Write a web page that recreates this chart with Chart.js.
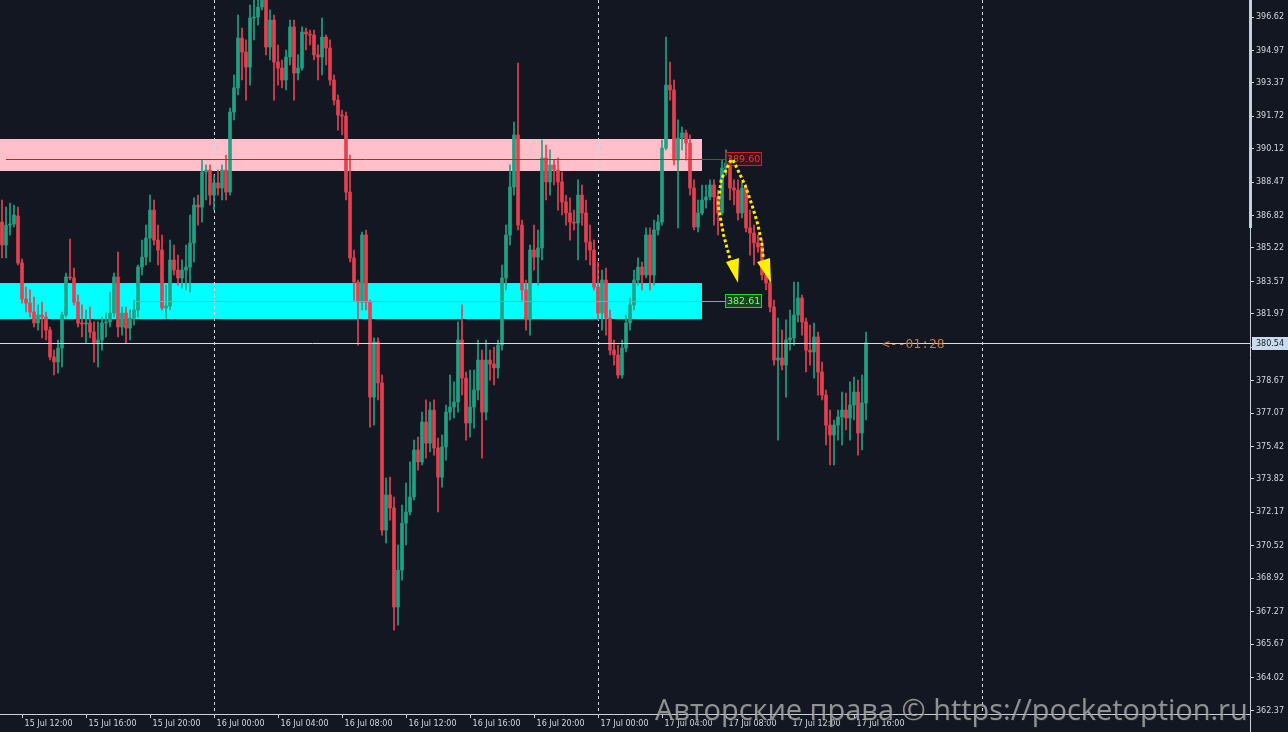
<!DOCTYPE html>
<html><head><meta charset="utf-8">
<script src="https://cdn.jsdelivr.net/npm/chart.js@4.4.1/dist/chart.umd.min.js"></script>
<style>html,body{margin:0;padding:0;background:#131722;overflow:hidden}canvas{display:block}</style>
</head><body>
<canvas id="c" width="1288" height="732"></canvas>
<script>
// ---- DATA (15-minute candles, index 0 = 15 Jul 10:45) ----
const opens = [386.50,385.37,386.35,386.40,386.80,384.48,382.70,382.50,382.06,381.52,381.91,381.81,381.17,379.84,379.59,380.28,381.91,383.79,383.74,382.55,381.52,381.47,381.52,381.07,380.53,380.68,381.52,381.57,382.01,383.79,381.32,382.01,381.27,381.76,382.16,384.28,384.77,385.71,387.09,385.61,385.12,382.26,382.36,384.63,384.13,383.74,384.13,384.28,385.47,387.34,387.24,388.97,389.07,387.83,388.43,388.18,389.07,387.98,391.93,393.12,395.58,394.89,394.15,396.57,396.62,397.11,397.71,395.14,396.47,394.40,394.10,393.51,394.65,396.13,393.86,394.10,395.88,395.78,395.73,394.75,394.65,395.63,395.09,393.51,392.52,391.78,391.73,387.98,384.73,383.54,382.55,385.86,382.55,377.86,380.58,378.56,371.30,373.03,372.39,367.50,369.32,371.64,372.19,372.93,375.25,374.66,376.63,375.59,377.22,375.35,373.91,375.40,377.12,377.37,377.62,380.68,378.80,376.58,377.37,378.21,379.69,377.12,379.69,379.49,379.30,380.43,383.74,385.86,388.23,390.80,386.35,383.15,381.67,385.12,384.77,385.22,389.66,388.48,389.32,389.07,388.48,387.49,386.95,386.50,386.45,387.83,386.95,385.51,385.12,383.29,382.01,383.64,381.76,380.18,379.94,378.95,380.28,381.52,382.41,383.64,384.28,383.89,385.86,383.89,386.11,386.50,390.15,393.26,393.02,389.56,390.65,390.90,390.40,388.18,386.26,386.95,387.59,387.74,388.33,387.74,386.95,389.17,389.41,388.18,388.08,386.95,388.18,386.21,385.96,385.47,385.27,383.89,383.49,382.31,379.69,379.79,379.44,380.68,380.78,381.91,382.75,381.57,380.18,380.09,380.83,379.10,377.96,376.48,375.99,376.48,376.88,377.22,376.83,377.47,378.11,376.09,377.57];
const highs = [387.59,387.24,387.44,387.34,387.24,384.68,383.29,383.15,382.80,382.41,382.55,382.06,381.32,380.18,380.68,382.06,383.98,385.66,384.23,382.90,382.41,382.16,382.31,381.57,381.57,381.81,382.01,383.05,383.98,385.02,382.31,382.31,382.16,382.65,384.38,385.61,386.35,387.83,387.59,386.35,385.86,383.39,385.61,385.37,384.87,384.63,385.37,386.85,387.69,387.83,389.56,389.32,389.32,388.82,389.07,389.32,389.81,392.13,393.76,396.72,396.08,395.49,397.21,397.46,397.71,398.45,398.45,396.97,396.72,395.24,394.50,394.99,396.47,396.47,394.75,396.13,396.08,395.98,395.98,395.24,396.57,395.73,395.49,393.76,392.77,392.03,391.93,389.81,385.12,383.64,386.01,386.11,382.65,380.78,380.78,378.95,373.87,373.91,372.93,370.56,372.53,373.62,374.66,375.74,375.89,377.12,377.72,377.62,377.72,375.84,375.99,377.47,378.95,378.61,381.57,382.41,379.10,379.20,379.20,380.68,380.18,380.68,380.18,380.33,380.68,384.38,386.35,389.32,391.44,394.35,386.60,383.64,385.37,386.35,386.11,390.55,390.30,390.06,389.56,389.66,388.97,387.83,387.69,387.09,388.58,388.33,387.59,386.35,385.61,384.53,384.13,384.23,382.16,380.68,380.43,380.68,381.91,382.75,384.13,384.73,384.53,386.21,386.21,386.60,386.85,390.55,395.63,394.40,393.51,391.54,391.19,391.04,390.80,388.58,387.59,388.33,388.33,388.58,388.58,388.08,389.56,390.06,389.81,388.58,388.58,388.48,388.33,387.09,386.35,385.86,385.61,384.13,383.74,382.65,381.76,381.17,381.67,382.16,383.54,383.54,382.90,381.76,381.42,381.52,381.07,379.59,378.21,377.22,376.73,377.22,378.11,378.06,378.61,378.85,378.70,378.95,381.07];
const lows = [384.73,384.73,385.86,386.26,384.38,382.50,382.06,381.81,381.32,381.17,380.78,380.68,379.69,378.95,379.05,379.35,381.81,383.64,382.41,381.32,380.83,380.53,380.78,379.59,379.35,380.18,380.83,381.32,381.81,380.83,380.92,380.53,380.68,381.42,381.81,383.89,384.38,384.53,385.37,384.38,382.16,381.76,382.16,383.89,383.39,383.24,383.15,383.05,384.53,386.35,386.50,387.59,387.34,387.09,387.83,387.59,387.59,387.83,391.54,392.77,393.51,392.52,393.26,395.49,396.23,396.97,394.75,394.50,392.52,393.26,393.12,393.02,394.25,392.52,393.51,394.00,394.99,395.24,394.50,393.51,393.76,394.25,393.26,392.28,391.04,390.80,387.59,384.53,382.65,380.43,382.16,382.16,376.38,376.48,377.72,371.05,370.66,371.79,366.36,366.61,368.83,370.56,372.04,372.78,374.26,374.51,374.85,375.15,375.00,372.19,373.42,374.75,376.73,376.83,377.12,377.96,375.74,375.89,376.33,377.72,374.85,376.73,378.70,378.46,378.80,380.18,383.15,385.37,387.83,386.11,382.65,381.17,380.92,384.13,383.39,384.63,387.59,387.83,388.33,387.09,386.85,386.35,385.61,386.11,384.63,386.35,384.63,384.38,383.15,381.67,381.17,380.92,379.94,379.44,378.80,378.80,380.09,381.17,382.16,383.39,383.15,383.74,383.15,383.39,385.86,386.35,390.06,392.52,389.32,386.21,390.06,389.56,387.83,386.11,386.01,386.85,387.19,387.59,386.35,385.86,386.85,388.82,387.59,387.34,386.60,386.70,386.01,384.87,384.38,385.02,383.64,383.15,382.06,379.44,375.74,379.20,377.86,380.18,380.43,381.57,380.92,379.10,379.44,378.80,377.96,377.72,375.50,374.51,374.51,375.74,375.50,376.24,375.74,376.73,375.00,375.25,376.73];
const closes = [385.37,386.35,386.40,386.85,384.48,382.70,382.50,382.06,381.52,381.91,381.81,381.17,379.84,379.59,380.28,381.91,383.79,383.74,382.55,381.52,381.47,381.52,381.07,380.53,380.68,381.52,381.57,382.01,383.79,381.32,382.01,381.27,381.76,382.16,384.28,384.77,385.71,387.09,385.61,385.12,382.26,382.36,384.63,384.13,383.74,384.13,384.28,385.47,387.34,387.24,388.97,389.07,387.83,388.43,388.18,389.07,387.98,391.93,393.12,395.58,394.89,394.15,396.57,396.62,397.11,397.71,395.14,396.47,394.40,394.10,393.51,394.65,396.13,393.86,394.10,395.88,395.78,395.73,394.75,394.65,395.63,395.09,393.51,392.52,391.78,391.73,387.98,384.73,383.54,382.55,385.86,382.55,377.86,380.58,378.56,371.30,373.03,372.39,367.50,369.32,371.64,372.19,372.93,375.25,374.66,376.63,375.59,377.22,375.35,373.91,375.40,377.12,377.37,377.62,380.68,378.80,376.58,377.37,378.21,379.69,377.12,379.69,379.49,379.30,380.43,383.74,385.86,388.23,390.80,386.35,383.15,381.67,385.12,384.77,385.22,389.66,388.48,389.32,389.07,388.48,387.49,386.95,386.50,386.45,387.83,386.95,385.51,385.12,383.29,382.01,383.64,381.76,380.18,379.94,378.95,380.28,381.52,382.41,383.64,384.28,383.89,385.86,383.89,386.11,386.50,390.15,393.26,393.02,389.56,390.65,390.90,390.40,388.18,386.26,386.95,387.59,387.74,388.33,387.74,386.95,389.17,389.41,388.18,388.08,386.95,388.18,386.21,385.96,385.47,385.27,383.89,383.49,382.31,379.69,379.79,379.44,380.68,380.78,381.91,382.75,381.57,380.18,380.09,380.83,379.10,377.96,376.48,375.99,376.48,376.88,377.22,376.83,377.47,378.11,376.09,377.57,380.54];

const xTickIndex = [5,21,37,53,69,85,101,117,133,149,165,181,197,213];
const xTickLabels = ['15 Jul 12:00','15 Jul 16:00','15 Jul 20:00','16 Jul 00:00','16 Jul 04:00','16 Jul 08:00','16 Jul 12:00','16 Jul 16:00','16 Jul 20:00','17 Jul 00:00','17 Jul 04:00','17 Jul 08:00','17 Jul 12:00','17 Jul 16:00'];
const yTickValues = [396.62,394.97,393.37,391.72,390.12,388.47,386.82,385.22,383.57,381.97,380.32,378.67,377.07,375.42,373.82,372.17,370.52,368.92,367.27,365.67,364.02,362.37];
const daySeparators = [53,149,245];

const resistanceZone = [389.02, 390.60];   // pink
const supportZone = [381.71, 383.49];      // cyan
const zoneSpan = [-0.5, 175];
const resistanceLevel = 389.60, resistanceFrom = 1;
const supportLevel = 382.61, supportFrom = 33.25;
const levelLabelAt = 180.75;
const lastPrice = 380.54;
const timerText = '<--01:28';
const arrowLeftPath = [[182.25,389.56],[179.8,388.6],[179,387.34],[180.4,385.86],[182.2,384.53]];
const arrowLeftHead = [[181,384.53],[184.25,384.73],[184,383.49]];
const arrowRightPath = [[182.75,389.56],[185.75,388.33],[187.5,387.34],[189,386.35],[190,385.37],[190.3,384.73]];
const arrowRightHead = [[188.75,384.53],[192,384.73],[192.25,383.49]];
const watermark = 'Авторские права © https://pocketoption.ru';

const UP = '#22a083', DOWN = '#e5404f', BG = '#131722', AXIS = '#c9d1d9', TXT = '#d3d9df';
const idx = closes.map((_, i) => i);
const candleColors = idx.map(i => closes[i] >= opens[i] ? UP : DOWN);

const overlay = {
  id: 'overlay',
  beforeDraw(chart) {
    const {ctx, width, height} = chart;
    ctx.save(); ctx.fillStyle = BG; ctx.fillRect(0, 0, width, height); ctx.restore();
  },
  beforeDatasetsDraw(chart) {
    const {ctx, chartArea: a, scales: {x, y}} = chart;
    ctx.save();
    ctx.beginPath(); ctx.rect(a.left, a.top, a.right - a.left, a.bottom - a.top); ctx.clip();
    const x0 = x.getPixelForValue(zoneSpan[0]), x1 = x.getPixelForValue(zoneSpan[1]);
    [[resistanceZone, '#ffc0cb'], [supportZone, '#00ffff']].forEach(([z, c]) => {
      const yt = y.getPixelForValue(z[1]), yb = y.getPixelForValue(z[0]);
      ctx.fillStyle = c; ctx.fillRect(x0, yt, x1 - x0, yb - yt);
    });
    ctx.strokeStyle = '#d5d9de'; ctx.lineWidth = 1; ctx.setLineDash([3, 3]);
    daySeparators.forEach(i => {
      const px = Math.round(x.getPixelForValue(i)) + 0.5;
      ctx.beginPath(); ctx.moveTo(px, a.top); ctx.lineTo(px, a.bottom); ctx.stroke();
    });
    ctx.restore();
  },
  afterDatasetsDraw(chart) {
    const {ctx, chartArea: a, scales: {x, y}} = chart;
    ctx.save();
    ctx.beginPath(); ctx.rect(a.left, a.top, a.right - a.left, a.bottom - a.top); ctx.clip();
    const xl = x.getPixelForValue(levelLabelAt);
    [[resistanceLevel, resistanceFrom, '#d41a1a'], [supportLevel, supportFrom, '#2ee82e']].forEach(([v, f, c]) => {
      const py = Math.round(y.getPixelForValue(v)) + 0.5;
      ctx.strokeStyle = c; ctx.lineWidth = 1;
      ctx.beginPath(); ctx.moveTo(x.getPixelForValue(f), py); ctx.lineTo(xl, py); ctx.stroke();
    });
    const pyL = Math.round(y.getPixelForValue(lastPrice)) + 0.5;
    ctx.strokeStyle = '#d8dce2'; ctx.beginPath(); ctx.moveTo(a.left, pyL); ctx.lineTo(a.right, pyL); ctx.stroke();
    ctx.font = '9.5px "DejaVu Sans"'; ctx.textBaseline = 'middle'; ctx.textAlign = 'left';
    [[resistanceLevel, 'rgba(110,12,16,0.55)', '#d42020', '#e23a3a'], [supportLevel, 'rgba(20,110,20,0.55)', '#30d030', '#86f586']].forEach(([v, fill, stroke, tc]) => {
      const py = Math.round(y.getPixelForValue(v));
      ctx.fillStyle = fill; ctx.fillRect(Math.round(xl), py - 7, 36, 14);
      ctx.strokeStyle = stroke; ctx.strokeRect(Math.round(xl) + 0.5, py - 6.5, 36, 13);
      ctx.fillStyle = tc; ctx.fillText(v.toFixed(2), Math.round(xl) + 2, py + 0.5);
    });
    const pt = p => [x.getPixelForValue(p[0]), y.getPixelForValue(p[1])];
    ctx.strokeStyle = '#ffee00'; ctx.fillStyle = '#ffee00'; ctx.lineWidth = 3; ctx.setLineDash([3, 2.5]);
    [arrowLeftPath, arrowRightPath].forEach(path => {
      ctx.beginPath();
      path.forEach((p, k) => { const [px, py] = pt(p); k ? ctx.lineTo(px, py) : ctx.moveTo(px, py); });
      ctx.stroke();
    });
    ctx.setLineDash([]);
    [arrowLeftHead, arrowRightHead].forEach(h => {
      ctx.beginPath(); h.forEach((p, k) => { const [px, py] = pt(p); k ? ctx.lineTo(px, py) : ctx.moveTo(px, py); });
      ctx.closePath(); ctx.fill();
    });
    ctx.font = '13px "DejaVu Sans Mono"'; ctx.fillStyle = '#c6793c'; ctx.textBaseline = 'middle';
    ctx.fillText(timerText, x.getPixelForValue(closes.length - 1) + 16, pyL + 1);
    ctx.restore();
  },
  afterDraw(chart) {
    const {ctx, chartArea: a, scales: {y}, width, height} = chart;
    ctx.save();
    ctx.strokeStyle = AXIS; ctx.lineWidth = 1;
    ctx.beginPath(); ctx.moveTo(a.right + 0.5, a.bottom); ctx.lineTo(a.right + 0.5, height); ctx.stroke();
    ctx.fillStyle = '#c2d4e2'; ctx.fillRect(a.right - 1, 0, 3, y.getPixelForValue(386.21));
    const py = y.getPixelForValue(lastPrice);
    ctx.fillStyle = '#c9dced'; ctx.fillRect(a.right + 2, Math.round(py) - 6, width - a.right - 2, 13);
    ctx.fillStyle = BG; ctx.font = '8px "DejaVu Sans"'; ctx.textBaseline = 'middle'; ctx.textAlign = 'left';
    ctx.fillText(lastPrice.toFixed(2), a.right + 6, Math.round(py) + 0.5);
    let fs = 28; ctx.font = fs + 'px "Open Sans"';
    fs = fs * 593 / ctx.measureText(watermark).width;
    ctx.font = fs + 'px "Open Sans"';
    ctx.fillStyle = 'rgba(50,50,50,0.5)'; ctx.textBaseline = 'middle';
    ctx.fillText(watermark, 656, 713);
    ctx.fillStyle = 'rgba(190,190,190,0.72)';
    ctx.fillText(watermark, 655, 712);
    ctx.restore();
  }
};

new Chart(document.getElementById('c'), {
  type: 'bar',
  data: {
    datasets: [
      { label: 'wick', data: idx.map(i => ({x: i, y: [lows[i], highs[i]]})), backgroundColor: candleColors, barThickness: 1, grouped: false, borderWidth: 0, order: 2 },
      { label: 'body', data: idx.map(i => ({x: i, y: [opens[i], closes[i]]})), backgroundColor: candleColors, barThickness: 3, grouped: false, borderWidth: 0, minBarLength: 1, order: 1 }
    ]
  },
  options: {
    responsive: false, animation: false, devicePixelRatio: 1,
    layout: { padding: 0 },
    plugins: { legend: { display: false }, tooltip: { enabled: false } },
    scales: {
      x: {
        type: 'linear', min: -0.5, max: 312, offset: false,
        grid: { display: true, drawOnChartArea: false, drawTicks: true, tickLength: 4, tickColor: AXIS, offset: false },
        border: { display: true, color: AXIS, width: 1 },
        afterBuildTicks: s => { s.ticks = xTickIndex.map(v => ({ value: v })); },
        ticks: { autoSkip: false, maxRotation: 0, minRotation: 0, align: 'start', padding: 1, color: TXT,
          font: { family: 'DejaVu Sans', size: 8 }, callback: (v, i) => ' ' + xTickLabels[i] },
        afterFit: s => { s.height = 18; s.paddingLeft = 0; s.paddingRight = 0; }
      },
      y: {
        type: 'linear', position: 'right', min: 362.22, max: 397.46, beginAtZero: false,
        grid: { display: true, drawOnChartArea: false, drawTicks: true, tickLength: 4, tickColor: AXIS },
        border: { display: true, color: AXIS, width: 1 },
        afterBuildTicks: s => { s.ticks = yTickValues.map(v => ({ value: v })); },
        ticks: { autoSkip: false, padding: 2, color: TXT, font: { family: 'DejaVu Sans', size: 8 }, callback: v => v.toFixed(2) },
        afterFit: s => { s.width = 38; s.paddingTop = 0; s.paddingBottom = 0; }
      }
    }
  },
  plugins: [overlay]
});
</script>
</body></html>
